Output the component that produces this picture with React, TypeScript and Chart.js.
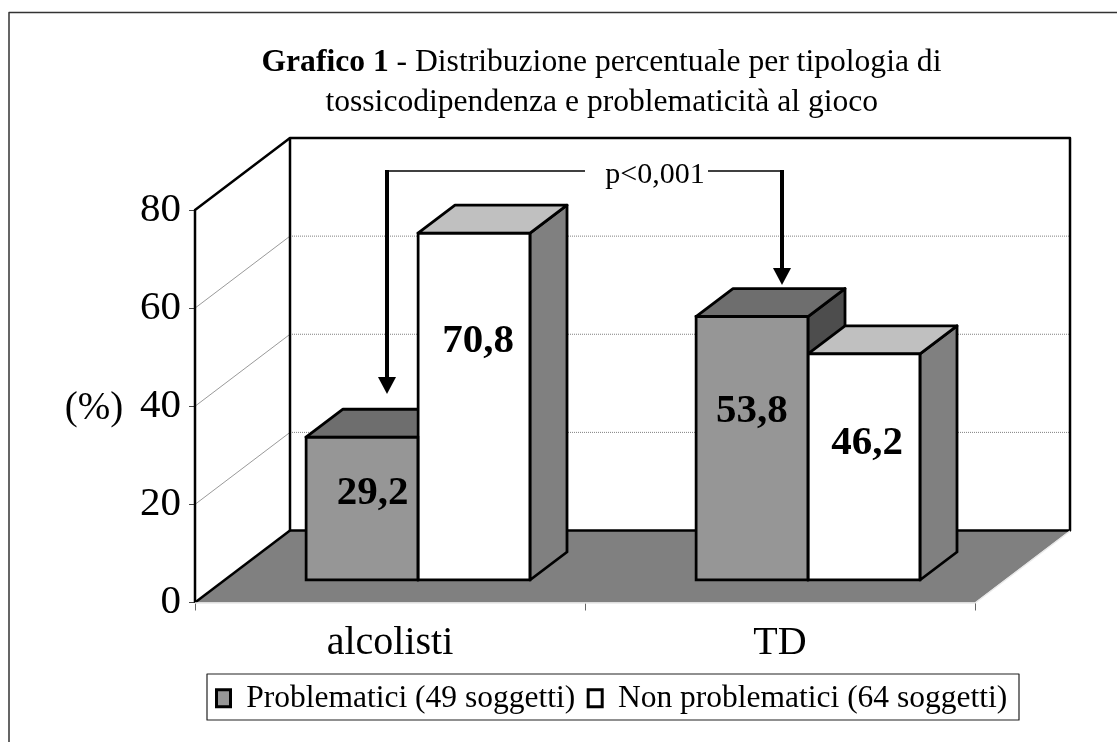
import React, { useEffect, useRef } from "react";
import { Chart, registerables } from "chart.js";

Chart.register(...registerables);

const categories = ["alcolisti", "TD"];
const problematici = [29.2, 53.8];
const nonProblematici = [70.8, 46.2];
const seriesNames = ["Problematici (49 soggetti)", "Non problematici (64 soggetti)"];
const yTicks = [0, 20, 40, 60, 80];

const SERIF = "'Liberation Serif', 'Times New Roman', serif";
const WALL_DX = 95;
const WALL_DY = -72;
const BAR_SHIFT_X = 28;
const BAR_SHIFT_Y = -22;
const BAR_DX = 37;
const BAR_DY = -28;

const faceColors = [
  { top: "#6e6e6e", side: "#4d4d4d" },
  { top: "#c0c0c0", side: "#808080" },
];
// hand placement of the value labels relative to the bar middle: [series][category] = [dx, dy]
const labelNudges = [
  [[10.7, -15.5], [0, -36.5]],
  [[4, -65.5], [3, -24]],
];

function poly(ctx: CanvasRenderingContext2D, pts: number[][], fill: string | null, stroke: string | null, lw = 2.8) {
  ctx.beginPath();
  pts.forEach((p, i) => (i ? ctx.lineTo(p[0], p[1]) : ctx.moveTo(p[0], p[1])));
  ctx.closePath();
  if (fill) {
    ctx.fillStyle = fill;
    ctx.fill();
  }
  if (stroke) {
    ctx.strokeStyle = stroke;
    ctx.lineWidth = lw;
    ctx.lineJoin = "round";
    ctx.stroke();
  }
}

function line(ctx: CanvasRenderingContext2D, pts: number[][], color: string, lw: number, dash: number[] = []) {
  ctx.beginPath();
  pts.forEach((p, i) => (i ? ctx.lineTo(p[0], p[1]) : ctx.moveTo(p[0], p[1])));
  ctx.strokeStyle = color;
  ctx.lineWidth = lw;
  ctx.lineJoin = "round";
  ctx.setLineDash(dash);
  ctx.stroke();
  ctx.setLineDash([]);
}

function arrow(ctx: CanvasRenderingContext2D, xFrom: number, xTo: number, yLine: number, yTip: number) {
  line(ctx, [[xFrom, yLine], [xTo, yLine]], "#000", 1.5);
  line(ctx, [[xTo, yLine - 1], [xTo, yTip - 12]], "#000", 4);
  poly(ctx, [[xTo - 9, yTip - 17], [xTo + 9, yTip - 17], [xTo, yTip]], "#000", null);
}

const bars3d = {
  id: "bars3d",
  afterLayout(chart: any) {
    const lg = chart.legend;
    const pad = lg.options.labels.padding;
    lg.left = 216.5 - pad;
    lg.right = 1110;
    lg.top = 682.5 - pad;
    lg.bottom = lg.top + lg.height;
  },
  beforeDraw(chart: any) {
    const { ctx, width, height } = chart;
    ctx.save();
    ctx.fillStyle = "#fff";
    ctx.fillRect(0, 0, width, height);
    // outer frame: only the left and top edges are inside the picture
    line(ctx, [[9, height], [9, 12.5], [width, 12.5]], "#333", 1.5);
    ctx.restore();
  },
  beforeDatasetsDraw(chart: any) {
    const { ctx, chartArea: a, scales } = chart;
    const y = scales.y;
    ctx.save();
    // floor
    poly(
      ctx,
      [[a.left, a.bottom], [a.left + WALL_DX, a.bottom + WALL_DY], [a.right + WALL_DX, a.bottom + WALL_DY], [a.right, a.bottom]],
      "#808080",
      null
    );
    // grid lines on the walls
    yTicks.slice(1, -1).forEach((v) => {
      const py = y.getPixelForValue(v);
      line(ctx, [[a.left, py], [a.left + WALL_DX, py + WALL_DY]], "#9a9a9a", 1);
      line(ctx, [[a.left + WALL_DX, py + WALL_DY], [a.right + WALL_DX, py + WALL_DY]], "#808080", 1, [1, 1]);
    });
    // wall edges
    line(ctx, [[a.left, a.bottom], [a.left, a.top], [a.left + WALL_DX, a.top + WALL_DY]], "#000", 2.5);
    line(ctx, [[a.left, a.bottom], [a.left + WALL_DX, a.bottom + WALL_DY]], "#000", 2.5);
    poly(
      ctx,
      [[a.left + WALL_DX, a.top + WALL_DY], [a.right + WALL_DX, a.top + WALL_DY], [a.right + WALL_DX, a.bottom + WALL_DY], [a.left + WALL_DX, a.bottom + WALL_DY]],
      null,
      "#000",
      2.5
    );
    line(ctx, [[a.left, a.bottom + 0.5], [a.right, a.bottom + 0.5], [a.right + WALL_DX, a.bottom + WALL_DY + 0.5]], "#e8e8e8", 1.5);
    // side and top faces of every bar, first series first
    chart.data.datasets.forEach((_: any, di: number) => {
      const colors = faceColors[di];
      chart.getDatasetMeta(di).data.forEach((bar: any) => {
        const p = bar.getProps(["x", "y", "base", "width"]);
        const l = p.x - p.width / 2 + BAR_SHIFT_X;
        const r = p.x + p.width / 2 + BAR_SHIFT_X;
        const t = p.y + BAR_SHIFT_Y;
        const b = p.base + BAR_SHIFT_Y;
        poly(ctx, [[r, t], [r + BAR_DX, t + BAR_DY], [r + BAR_DX, b + BAR_DY], [r, b]], colors.side, "#000");
        poly(ctx, [[l, t], [l + BAR_DX, t + BAR_DY], [r + BAR_DX, t + BAR_DY], [r, t]], colors.top, "#000");
      });
    });
    ctx.restore();
    // the library's own bars become the front faces
    ctx.save();
    ctx.translate(BAR_SHIFT_X, BAR_SHIFT_Y);
  },
  afterDatasetsDraw(chart: any) {
    const { ctx } = chart;
    ctx.restore();
    ctx.save();
    // value labels
    ctx.fillStyle = "#000";
    ctx.textAlign = "center";
    ctx.textBaseline = "middle";
    ctx.font = `bold 41px ${SERIF}`;
    chart.data.datasets.forEach((ds: any, di: number) => {
      chart.getDatasetMeta(di).data.forEach((bar: any, i: number) => {
        const p = bar.getProps(["x", "y", "base"]);
        const label = String(ds.data[i]).replace(".", ",");
        const [dx, dy] = labelNudges[di][i];
        ctx.fillText(label, p.x + BAR_SHIFT_X + dx, (p.y + p.base) / 2 + BAR_SHIFT_Y + dy);
      });
    });
    // title
    const boldPart = "Grafico 1";
    const rest = " - Distribuzione percentuale per tipologia di";
    ctx.textBaseline = "alphabetic";
    ctx.textAlign = "left";
    ctx.font = `bold 31.6px ${SERIF}`;
    ctx.fillText(boldPart, 261.5, 71);
    const w1 = ctx.measureText(boldPart).width;
    ctx.font = `31.6px ${SERIF}`;
    ctx.fillText(rest, 261.5 + w1, 71);
    ctx.textAlign = "center";
    ctx.fillText("tossicodipendenza e problematicità al gioco", 601.8, 111);
    // axis caption
    ctx.font = `39px ${SERIF}`;
    ctx.fillText("(%)", 94, 418.5);
    // significance annotation
    ctx.font = `30px ${SERIF}`;
    ctx.fillText("p<0,001", 655, 182.5);
    arrow(ctx, 585, 387, 171, 394);
    arrow(ctx, 708, 782, 171, 285);
    // legend frame
    ctx.strokeStyle = "#222";
    ctx.lineWidth = 1.2;
    ctx.strokeRect(207, 674, 812, 46);
    ctx.restore();
  },
};

export default function App() {
  const ref = useRef<HTMLCanvasElement>(null);
  useEffect(() => {
    document.body.style.margin = "0";
    const chart = new Chart(ref.current as HTMLCanvasElement, {
      type: "bar",
      data: {
        labels: categories,
        datasets: [
          { label: seriesNames[0], data: problematici, backgroundColor: "#969696", borderColor: "#000", borderWidth: 3 },
          { label: seriesNames[1], data: nonProblematici, backgroundColor: "#ffffff", borderColor: "#000", borderWidth: 3 },
        ],
      },
      plugins: [bars3d],
      options: {
        responsive: false,
        animation: false,
        layout: { padding: { left: 0, right: 142, top: 210, bottom: 0 } },
        datasets: {
          bar: { categoryPercentage: 0.5744, barPercentage: 1, borderSkipped: false, clip: false, inflateAmount: 1.5 },
        },
        plugins: {
          title: { display: false },
          tooltip: { enabled: false },
          legend: {
            display: true,
            position: "bottom",
            align: "start",
            onClick: () => {},
            labels: {
              font: { family: SERIF, size: 31.5 },
              color: "#000",
              boxWidth: 14,
              boxHeight: 17,
              padding: 13,
            },
          },
        },
        scales: {
          x: {
            afterFit: (s: any) => { s.height = 85; },
            grid: { display: true, drawOnChartArea: false, drawTicks: true, tickLength: 8, color: "#666" },
            border: { display: false },
            ticks: { font: { family: SERIF, size: 40 }, color: "#000", padding: 9, maxRotation: 0 },
          },
          y: {
            min: 0,
            max: 80,
            afterFit: (s: any) => { s.width = 195; },
            afterBuildTicks: (s: any) => { s.ticks = yTicks.map((value) => ({ value })); },
            grid: { display: true, drawOnChartArea: false, drawTicks: true, tickLength: 6, color: "#444" },
            border: { display: false },
            ticks: { font: { family: SERIF, size: 41 }, color: "#000", padding: 8 },
          },
        },
      },
    } as any);
    return () => chart.destroy();
  }, []);
  return <canvas ref={ref} width={1117} height={742} style={{ display: "block" }} />;
}
